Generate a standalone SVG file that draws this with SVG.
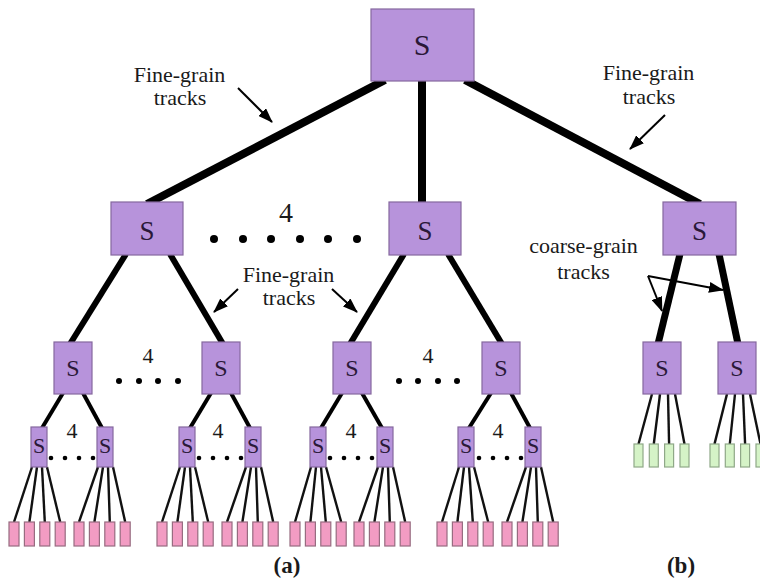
<svg xmlns="http://www.w3.org/2000/svg" width="760" height="584" viewBox="0 0 760 584">
<defs>
<marker id="ah" markerUnits="userSpaceOnUse" markerWidth="15" markerHeight="11" refX="14" refY="5.5" orient="auto">
<path d="M0,0 L15,5.5 L0,11 z" fill="#000"/>
</marker>
<style>
.sw{fill:#b793db;stroke:#85689e;stroke-width:1.2}
.pk{fill:#f29cc3;stroke:#976c80;stroke-width:1.2}
.gr{fill:#d5f3c7;stroke:#8fa888;stroke-width:1.2}
.t{fill:#1a1a1a;text-anchor:middle}
.s{fill:#2a1838;text-anchor:middle}
.l0{stroke:#000;stroke-width:8;stroke-linecap:butt}
.l1{stroke:#000;stroke-width:6}
.l2{stroke:#000;stroke-width:4}
.l3{stroke:#111;stroke-width:2.4}
.ar{stroke:#000;stroke-width:2;fill:none;marker-end:url(#ah)}
.d{fill:#000}
</style>
</defs>
<rect width="760" height="584" fill="#fff"/>
<g id="connectors">
<line class="l0" x1="385" y1="80" x2="147" y2="204"/>
<line class="l0" x1="422" y1="80" x2="422" y2="203"/>
<line class="l0" x1="465" y1="80" x2="700" y2="204"/>
<line class="l1" x1="126" y1="254" x2="70" y2="344"/>
<line class="l1" x1="170" y1="254" x2="223" y2="344"/>
<line class="l1" x1="404" y1="254" x2="350" y2="344"/>
<line class="l1" x1="448" y1="254" x2="502" y2="344"/>
<line class="l0" style="stroke-width:7" x1="680" y1="254" x2="658" y2="344"/>
<line class="l0" style="stroke-width:7" x1="719" y1="254" x2="738" y2="344"/>
<line class="l2" x1="63" y1="393" x2="42" y2="428"/>
<line class="l2" x1="83" y1="393" x2="102" y2="428"/>
<line class="l2" x1="211" y1="393" x2="190" y2="428"/>
<line class="l2" x1="231" y1="393" x2="250" y2="428"/>
<line class="l2" x1="342" y1="393" x2="321" y2="428"/>
<line class="l2" x1="362" y1="393" x2="382" y2="428"/>
<line class="l2" x1="491" y1="393" x2="469" y2="428"/>
<line class="l2" x1="511" y1="393" x2="530" y2="428"/>
<g>
<line class="l3" x1="32" y1="467" x2="14" y2="522"/><line class="l3" x1="37" y1="467" x2="29.4" y2="522"/><line class="l3" x1="42" y1="467" x2="44.8" y2="522"/><line class="l3" x1="47" y1="467" x2="60.2" y2="522"/>
<line class="l3" x1="98" y1="467" x2="79" y2="522"/><line class="l3" x1="103" y1="467" x2="94.4" y2="522"/><line class="l3" x1="108" y1="467" x2="109.8" y2="522"/><line class="l3" x1="113" y1="467" x2="125.2" y2="522"/>
<line class="l3" x1="180" y1="467" x2="162" y2="522"/><line class="l3" x1="185" y1="467" x2="177.4" y2="522"/><line class="l3" x1="190" y1="467" x2="192.8" y2="522"/><line class="l3" x1="195" y1="467" x2="208.2" y2="522"/>
<line class="l3" x1="246" y1="467" x2="227" y2="522"/><line class="l3" x1="251" y1="467" x2="242.4" y2="522"/><line class="l3" x1="256" y1="467" x2="257.8" y2="522"/><line class="l3" x1="261" y1="467" x2="273.2" y2="522"/>
<line class="l3" x1="311" y1="467" x2="295" y2="522"/><line class="l3" x1="316" y1="467" x2="310.4" y2="522"/><line class="l3" x1="321" y1="467" x2="325.8" y2="522"/><line class="l3" x1="326" y1="467" x2="341.2" y2="522"/>
<line class="l3" x1="378" y1="467" x2="359" y2="522"/><line class="l3" x1="383" y1="467" x2="374.4" y2="522"/><line class="l3" x1="388" y1="467" x2="389.8" y2="522"/><line class="l3" x1="393" y1="467" x2="405.2" y2="522"/>
<line class="l3" x1="459" y1="467" x2="442" y2="522"/><line class="l3" x1="464" y1="467" x2="457.4" y2="522"/><line class="l3" x1="469" y1="467" x2="472.8" y2="522"/><line class="l3" x1="474" y1="467" x2="488.2" y2="522"/>
<line class="l3" x1="526" y1="467" x2="507" y2="522"/><line class="l3" x1="531" y1="467" x2="522.4" y2="522"/><line class="l3" x1="536" y1="467" x2="537.8" y2="522"/><line class="l3" x1="541" y1="467" x2="553.2" y2="522"/>
<line class="l3" x1="652" y1="394" x2="638.5" y2="444"/><line class="l3" x1="660" y1="394" x2="653.8" y2="444"/><line class="l3" x1="668" y1="394" x2="669.1" y2="444"/><line class="l3" x1="675" y1="394" x2="684.5" y2="444"/>
<line class="l3" x1="727" y1="394" x2="714.5" y2="444"/><line class="l3" x1="735" y1="394" x2="729.8" y2="444"/><line class="l3" x1="743" y1="394" x2="745.1" y2="444"/><line class="l3" x1="750" y1="394" x2="760.5" y2="444"/>
</g>
</g>
<g font-family="Liberation Serif, DejaVu Serif, serif">
<g id="s-root"><rect class="sw" x="371" y="9" width="103" height="72"/><text class="s" x="422" y="55" font-size="30">S</text></g>
<g id="s1-a"><rect class="sw" x="111" y="202" width="72" height="53"/><text class="s" x="147" y="240" font-size="27">S</text></g>
<g id="s1-b"><rect class="sw" x="389" y="202" width="72" height="53"/><text class="s" x="425" y="240" font-size="27">S</text></g>
<g id="s1-c"><rect class="sw" x="663" y="202" width="73" height="53"/><text class="s" x="699.5" y="240" font-size="27">S</text></g>
<g id="s2-a"><rect class="sw" x="54" y="342" width="38" height="52"/><text class="s" x="73" y="376" font-size="24">S</text></g>
<g id="s2-b"><rect class="sw" x="202" y="342" width="38" height="52"/><text class="s" x="221" y="376" font-size="24">S</text></g>
<g id="s2-c"><rect class="sw" x="333" y="342" width="38" height="52"/><text class="s" x="352" y="376" font-size="24">S</text></g>
<g id="s2-d"><rect class="sw" x="482" y="342" width="38" height="52"/><text class="s" x="501" y="376" font-size="24">S</text></g>
<g id="s2-e"><rect class="sw" x="643" y="342" width="38" height="52"/><text class="s" x="662" y="376" font-size="24">S</text></g>
<g id="s2-f"><rect class="sw" x="718" y="342" width="38" height="52"/><text class="s" x="737" y="376" font-size="24">S</text></g>
<g id="s3-a"><rect class="sw" x="31" y="427" width="16" height="40"/><text class="s" x="39" y="453" font-size="22">S</text></g>
<g id="s3-b"><rect class="sw" x="97" y="427" width="16" height="40"/><text class="s" x="105" y="453" font-size="22">S</text></g>
<g id="s3-c"><rect class="sw" x="179" y="427" width="16" height="40"/><text class="s" x="187" y="453" font-size="22">S</text></g>
<g id="s3-d"><rect class="sw" x="245" y="427" width="16" height="40"/><text class="s" x="253" y="453" font-size="22">S</text></g>
<g id="s3-e"><rect class="sw" x="310" y="427" width="16" height="40"/><text class="s" x="318" y="453" font-size="22">S</text></g>
<g id="s3-f"><rect class="sw" x="377" y="427" width="16" height="40"/><text class="s" x="385" y="453" font-size="22">S</text></g>
<g id="s3-g"><rect class="sw" x="458" y="427" width="16" height="40"/><text class="s" x="466" y="453" font-size="22">S</text></g>
<g id="s3-h"><rect class="sw" x="525" y="427" width="16" height="40"/><text class="s" x="533" y="453" font-size="22">S</text></g>
<g id="leaves-a">
<rect class="pk" x="9" y="522" width="10" height="24"/><rect class="pk" x="24.4" y="522" width="10" height="24"/><rect class="pk" x="39.8" y="522" width="10" height="24"/><rect class="pk" x="55.2" y="522" width="10" height="24"/>
<rect class="pk" x="74" y="522" width="10" height="24"/><rect class="pk" x="89.4" y="522" width="10" height="24"/><rect class="pk" x="104.8" y="522" width="10" height="24"/><rect class="pk" x="120.2" y="522" width="10" height="24"/>
<rect class="pk" x="157" y="522" width="10" height="24"/><rect class="pk" x="172.4" y="522" width="10" height="24"/><rect class="pk" x="187.8" y="522" width="10" height="24"/><rect class="pk" x="203.2" y="522" width="10" height="24"/>
<rect class="pk" x="222" y="522" width="10" height="24"/><rect class="pk" x="237.4" y="522" width="10" height="24"/><rect class="pk" x="252.8" y="522" width="10" height="24"/><rect class="pk" x="268.2" y="522" width="10" height="24"/>
<rect class="pk" x="290" y="522" width="10" height="24"/><rect class="pk" x="305.4" y="522" width="10" height="24"/><rect class="pk" x="320.8" y="522" width="10" height="24"/><rect class="pk" x="336.2" y="522" width="10" height="24"/>
<rect class="pk" x="354" y="522" width="10" height="24"/><rect class="pk" x="369.4" y="522" width="10" height="24"/><rect class="pk" x="384.8" y="522" width="10" height="24"/><rect class="pk" x="400.2" y="522" width="10" height="24"/>
<rect class="pk" x="437" y="522" width="10" height="24"/><rect class="pk" x="452.4" y="522" width="10" height="24"/><rect class="pk" x="467.8" y="522" width="10" height="24"/><rect class="pk" x="483.2" y="522" width="10" height="24"/>
<rect class="pk" x="502" y="522" width="10" height="24"/><rect class="pk" x="517.4" y="522" width="10" height="24"/><rect class="pk" x="532.8" y="522" width="10" height="24"/><rect class="pk" x="548.2" y="522" width="10" height="24"/>
</g>
<g id="leaves-b">
<rect class="gr" x="634" y="444" width="9" height="23"/><rect class="gr" x="649.3" y="444" width="9" height="23"/><rect class="gr" x="664.6" y="444" width="9" height="23"/><rect class="gr" x="680" y="444" width="9" height="23"/>
<rect class="gr" x="710" y="444" width="9" height="23"/><rect class="gr" x="725.3" y="444" width="9" height="23"/><rect class="gr" x="740.6" y="444" width="9" height="23"/><rect class="gr" x="756" y="444" width="9" height="23"/>
</g>
<g id="dots">
<text class="t" x="286" y="222" font-size="28">4</text>
<circle class="d" cx="214" cy="239" r="4"/><circle class="d" cx="243" cy="239" r="4"/><circle class="d" cx="271" cy="239" r="4"/><circle class="d" cx="300" cy="239" r="4"/><circle class="d" cx="328" cy="239" r="4"/><circle class="d" cx="357" cy="239" r="4"/>
<text class="t" x="148" y="363" font-size="22">4</text>
<circle class="d" cx="119" cy="381" r="3"/><circle class="d" cx="139" cy="381" r="3"/><circle class="d" cx="158" cy="381" r="3"/><circle class="d" cx="178" cy="381" r="3"/>
<text class="t" x="428" y="363" font-size="22">4</text>
<circle class="d" cx="399" cy="381" r="3"/><circle class="d" cx="418" cy="381" r="3"/><circle class="d" cx="438" cy="381" r="3"/><circle class="d" cx="457" cy="381" r="3"/>
<text class="t" x="72" y="438" font-size="22">4</text>
<circle class="d" cx="51" cy="458" r="2.3"/><circle class="d" cx="65" cy="458" r="2.3"/><circle class="d" cx="79" cy="458" r="2.3"/><circle class="d" cx="93" cy="458" r="2.3"/>
<text class="t" x="218" y="438" font-size="22">4</text>
<circle class="d" cx="199" cy="458" r="2.3"/><circle class="d" cx="213" cy="458" r="2.3"/><circle class="d" cx="227" cy="458" r="2.3"/><circle class="d" cx="241" cy="458" r="2.3"/>
<text class="t" x="351" y="438" font-size="22">4</text>
<circle class="d" cx="330" cy="458" r="2.3"/><circle class="d" cx="344" cy="458" r="2.3"/><circle class="d" cx="358" cy="458" r="2.3"/><circle class="d" cx="372" cy="458" r="2.3"/>
<text class="t" x="498" y="438" font-size="22">4</text>
<circle class="d" cx="479" cy="458" r="2.3"/><circle class="d" cx="493" cy="458" r="2.3"/><circle class="d" cx="507" cy="458" r="2.3"/><circle class="d" cx="521" cy="458" r="2.3"/>
</g>
<g id="labels">
<text class="t" x="179.5" y="82" font-size="22">Fine-grain</text>
<text class="t" x="180" y="105" font-size="22">tracks</text>
<line class="ar" x1="238" y1="88" x2="272" y2="122"/>
<text class="t" x="648.5" y="80" font-size="22">Fine-grain</text>
<text class="t" x="649" y="104" font-size="22">tracks</text>
<line class="ar" x1="665" y1="115" x2="630" y2="149"/>
<text class="t" x="288.5" y="282" font-size="22">Fine-grain</text>
<text class="t" x="289" y="305" font-size="22">tracks</text>
<line class="ar" x1="238" y1="289" x2="214" y2="312"/>
<line class="ar" x1="332" y1="289" x2="357" y2="312"/>
<text class="t" x="583.5" y="253" font-size="22">coarse-grain</text>
<text class="t" x="583.5" y="279" font-size="22">tracks</text>
<line class="ar" x1="648" y1="276" x2="662" y2="311"/>
<line class="ar" x1="648" y1="276" x2="723" y2="290"/>
<text class="t" x="287" y="573" font-size="23" font-weight="bold">(a)</text>
<text class="t" x="681" y="573" font-size="23" font-weight="bold">(b)</text>
</g>
</g>
</svg>
